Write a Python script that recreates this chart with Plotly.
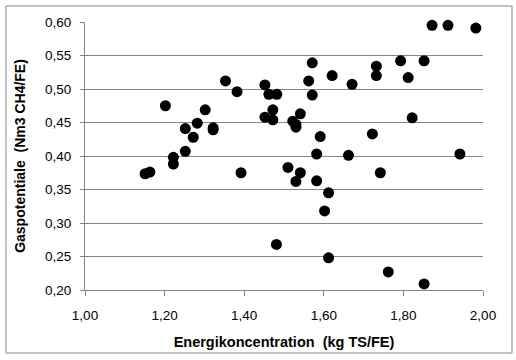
import plotly.graph_objects as go

energi = [1.151, 1.163, 1.202, 1.222, 1.222, 1.252, 1.252, 1.272, 1.282, 1.302,
          1.322, 1.322, 1.353, 1.382, 1.392, 1.481, 1.452, 1.452, 1.462, 1.482,
          1.472, 1.472, 1.510, 1.522, 1.530, 1.530, 1.541, 1.571, 1.562, 1.571,
          1.621, 1.671, 1.591, 1.582, 1.662, 1.732, 1.732, 1.793, 1.852, 1.812,
          1.822, 1.722, 1.942, 1.872, 1.912, 1.982, 1.541, 1.742, 1.530, 1.582,
          1.612, 1.602, 1.612, 1.762, 1.852]
gas = [0.3735, 0.376, 0.475, 0.398, 0.388, 0.407, 0.441, 0.428, 0.449, 0.469,
       0.439, 0.442, 0.512, 0.496, 0.375, 0.268, 0.506, 0.458, 0.492, 0.492,
       0.469, 0.454, 0.383, 0.452, 0.447, 0.443, 0.463, 0.539, 0.512, 0.491,
       0.520, 0.507, 0.429, 0.403, 0.401, 0.534, 0.520, 0.542, 0.542, 0.517,
       0.457, 0.433, 0.403, 0.595, 0.595, 0.591, 0.375, 0.375, 0.362, 0.363,
       0.345, 0.318, 0.248, 0.227, 0.209]

x_ticks = [1.0, 1.2, 1.4, 1.6, 1.8, 2.0]
y_ticks = [0.20, 0.25, 0.30, 0.35, 0.40, 0.45, 0.50, 0.55, 0.60]

fig = go.Figure()
fig.add_trace(go.Scatter(x=energi, y=gas, mode="markers", cliponaxis=False,
                         marker=dict(color="black", size=11, line=dict(width=0))))

font = "Liberation Sans, Arial, sans-serif"
fig.update_layout(
    width=516, height=360,
    margin=dict(l=85, r=33, t=22, b=70),
    paper_bgcolor="white", plot_bgcolor="white",
    separators=",.",
    showlegend=False,
    font=dict(family=font, size=13, color="black"),
    xaxis=dict(range=[1.0, 2.0], tickvals=x_ticks, tickformat=".2f",
               showgrid=False, zeroline=False,
               showline=True, linecolor="#868686", linewidth=1,
               ticks="outside", ticklen=5, tickcolor="#868686",
               tickfont=dict(size=13.5), ticklabelstandoff=8,
               title=dict(text="<b>Energikoncentration\u00a0 (kg TS/FE)</b>",
                          font=dict(size=14.5), standoff=14)),
    yaxis=dict(range=[0.2, 0.6], tickvals=y_ticks, tickformat=".2f",
               showgrid=True, gridcolor="#868686", gridwidth=1, zeroline=False,
               showline=True, linecolor="#868686", linewidth=1,
               ticks="outside", ticklen=4, tickcolor="#868686",
               tickfont=dict(size=13.5), ticklabelstandoff=6,
               title=dict(text="<b>Gaspotentiale\u00a0 (Nm3 CH4/FE)</b>",
                          font=dict(size=14), standoff=16)),
)
fig.add_shape(type="rect", xref="paper", yref="paper",
              x0=(6 - 85) / 398, x1=(512 - 85) / 398,
              y0=(290 - 353) / 268, y1=(290 - 6) / 268,
              line=dict(color="#868686", width=1), fillcolor="rgba(0,0,0,0)",
              layer="above")
fig.write_html("out.html", config={"displayModeBar": False},
               post_script="document.body.style.margin='0';document.body.style.overflow='hidden';")
